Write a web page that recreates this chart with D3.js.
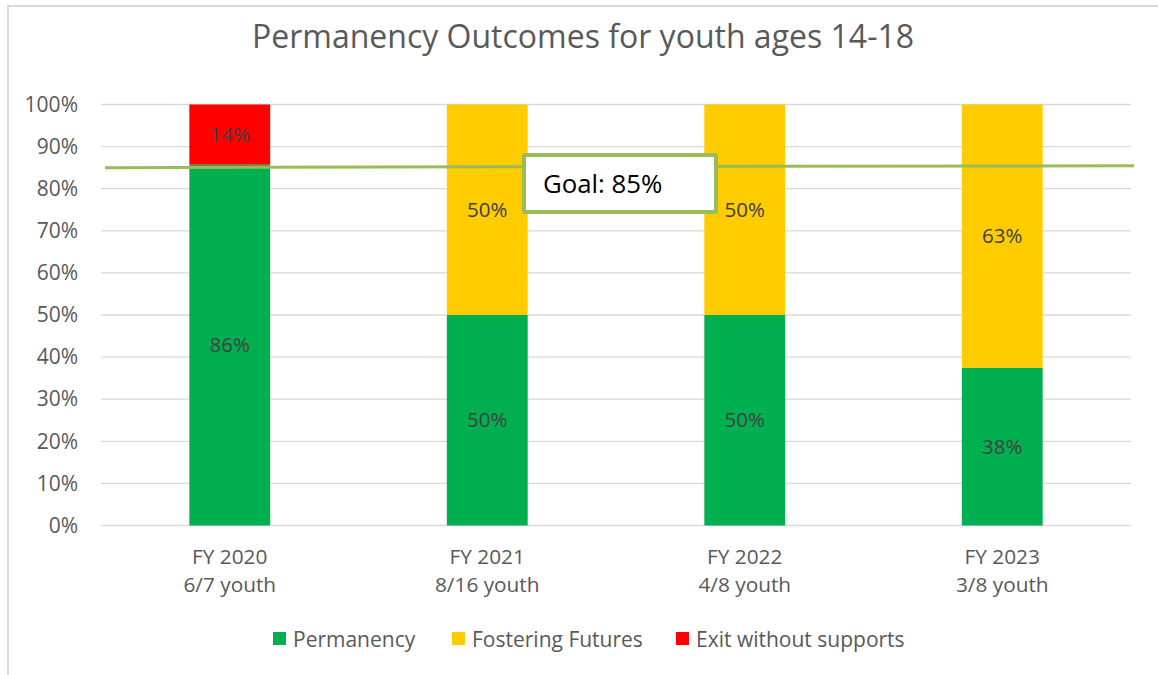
<!DOCTYPE html>
<html><head><meta charset="utf-8">
<script src="https://cdn.jsdelivr.net/npm/d3@7"></script>
<style>body{margin:0;background:#fff}svg{display:block;font-family:"Open Sans","Noto Sans",sans-serif}</style>
</head><body><svg id="c" width="1158" height="675"></svg>
<script>
const categories = ["FY 2020|6/7 youth","FY 2021|8/16 youth","FY 2022|4/8 youth","FY 2023|3/8 youth"];
const permanency = [85.7, 50, 50, 37.5];
const fosteringFutures = [0, 50, 50, 62.5];
const exitWithoutSupports = [14.3, 0, 0, 0];
const seriesNames = ["Permanency","Fostering Futures","Exit without supports"];
const seriesColors = ["#00b050","#ffcc00","#ff0000"];
const yTicks = [0,10,20,30,40,50,60,70,80,90,100];
const goalValue = 85;
const goalLabel = "Goal: 85%";
const title = "Permanency Outcomes for youth ages 14-18";

const svg = d3.select("#c");
svg.append("rect").attr("x",8).attr("y",6).attr("width",1170).attr("height",690)
  .attr("fill","#fff").attr("stroke","#d9d9d9").attr("stroke-width",2);

const x = d3.scaleBand().domain(categories).range([101,1131]).paddingInner(0.686).paddingOuter(0.343);
const y = d3.scaleLinear().domain([0,100]).range([525.5,104.5]);

svg.append("text").attr("x",583).attr("y",48).attr("text-anchor","middle")
  .attr("font-size",32).attr("fill","#595959").text(title);

// gridlines
svg.append("g").selectAll("line").data(yTicks).join("line")
  .attr("x1",101).attr("x2",1131).attr("y1",d=>y(d)).attr("y2",d=>y(d))
  .attr("stroke","#d9d9d9").attr("stroke-width",1.3);

// y axis labels
const yAxis = d3.axisLeft(y).tickValues(yTicks).tickFormat(d=>d+"%").tickSize(0).tickPadding(0);
const ya = svg.append("g").attr("transform","translate(78,0)").call(yAxis);
ya.select(".domain").remove();
ya.selectAll("text").attr("font-size",21).attr("fill","#595959").attr("font-family","Open Sans");

// stacked data
const rows = categories.map((c,i)=>({cat:c, s0:permanency[i], s1:fosteringFutures[i], s2:exitWithoutSupports[i]}));
const stack = d3.stack().keys(["s0","s1","s2"])(rows);
const g = svg.append("g");
stack.forEach((layer,k)=>{
  g.append("g").selectAll("rect").data(layer).join("rect")
    .attr("x",d=>x(d.data.cat)).attr("width",x.bandwidth())
    .attr("y",d=>y(d[1])).attr("height",d=>y(d[0])-y(d[1]))
    .attr("fill",seriesColors[k]);
  g.append("g").selectAll("text").data(layer.filter(d=>d[1]-d[0]>0)).join("text")
    .attr("x",d=>x(d.data.cat)+x.bandwidth()/2).attr("y",d=>y((d[0]+d[1])/2)+7)
    .attr("text-anchor","middle").attr("font-size",20.5).attr("fill","#404040")
    .text(d=>Math.round(d[1]-d[0])+"%");
});

// x axis labels
const xl = svg.append("g");
categories.forEach(c=>{
  const parts = c.split("|");
  const t = xl.append("text").attr("x",x(c)+x.bandwidth()/2).attr("text-anchor","middle")
    .attr("font-size",20.8).attr("fill","#595959");
  t.append("tspan").attr("x",x(c)+x.bandwidth()/2).attr("y",564).text(parts[0]);
  t.append("tspan").attr("x",x(c)+x.bandwidth()/2).attr("y",592).text(parts[1]);
});

// goal line
svg.append("line").attr("x1",105).attr("x2",1134).attr("y1",y(goalValue)).attr("y2",y(goalValue)-2)
  .attr("stroke","#9bbb59").attr("stroke-width",3);
svg.append("rect").attr("x",524).attr("y",155).attr("width",192).attr("height",57)
  .attr("fill","#fff").attr("stroke","#9bbb59").attr("stroke-width",4).attr("rx",1.5);
svg.append("text").attr("x",543).attr("y",193).attr("font-size",25.8).attr("fill","#000").text(goalLabel);

// legend
const legX = [273,452,676];
const lg = svg.append("g");
seriesNames.forEach((n,i)=>{
  lg.append("rect").attr("x",legX[i]).attr("y",632).attr("width",13).attr("height",13).attr("fill",seriesColors[i]);
  lg.append("text").attr("x",legX[i]+20).attr("y",647).attr("font-size",21).attr("fill","#595959").text(n);
});
</script></body></html>
